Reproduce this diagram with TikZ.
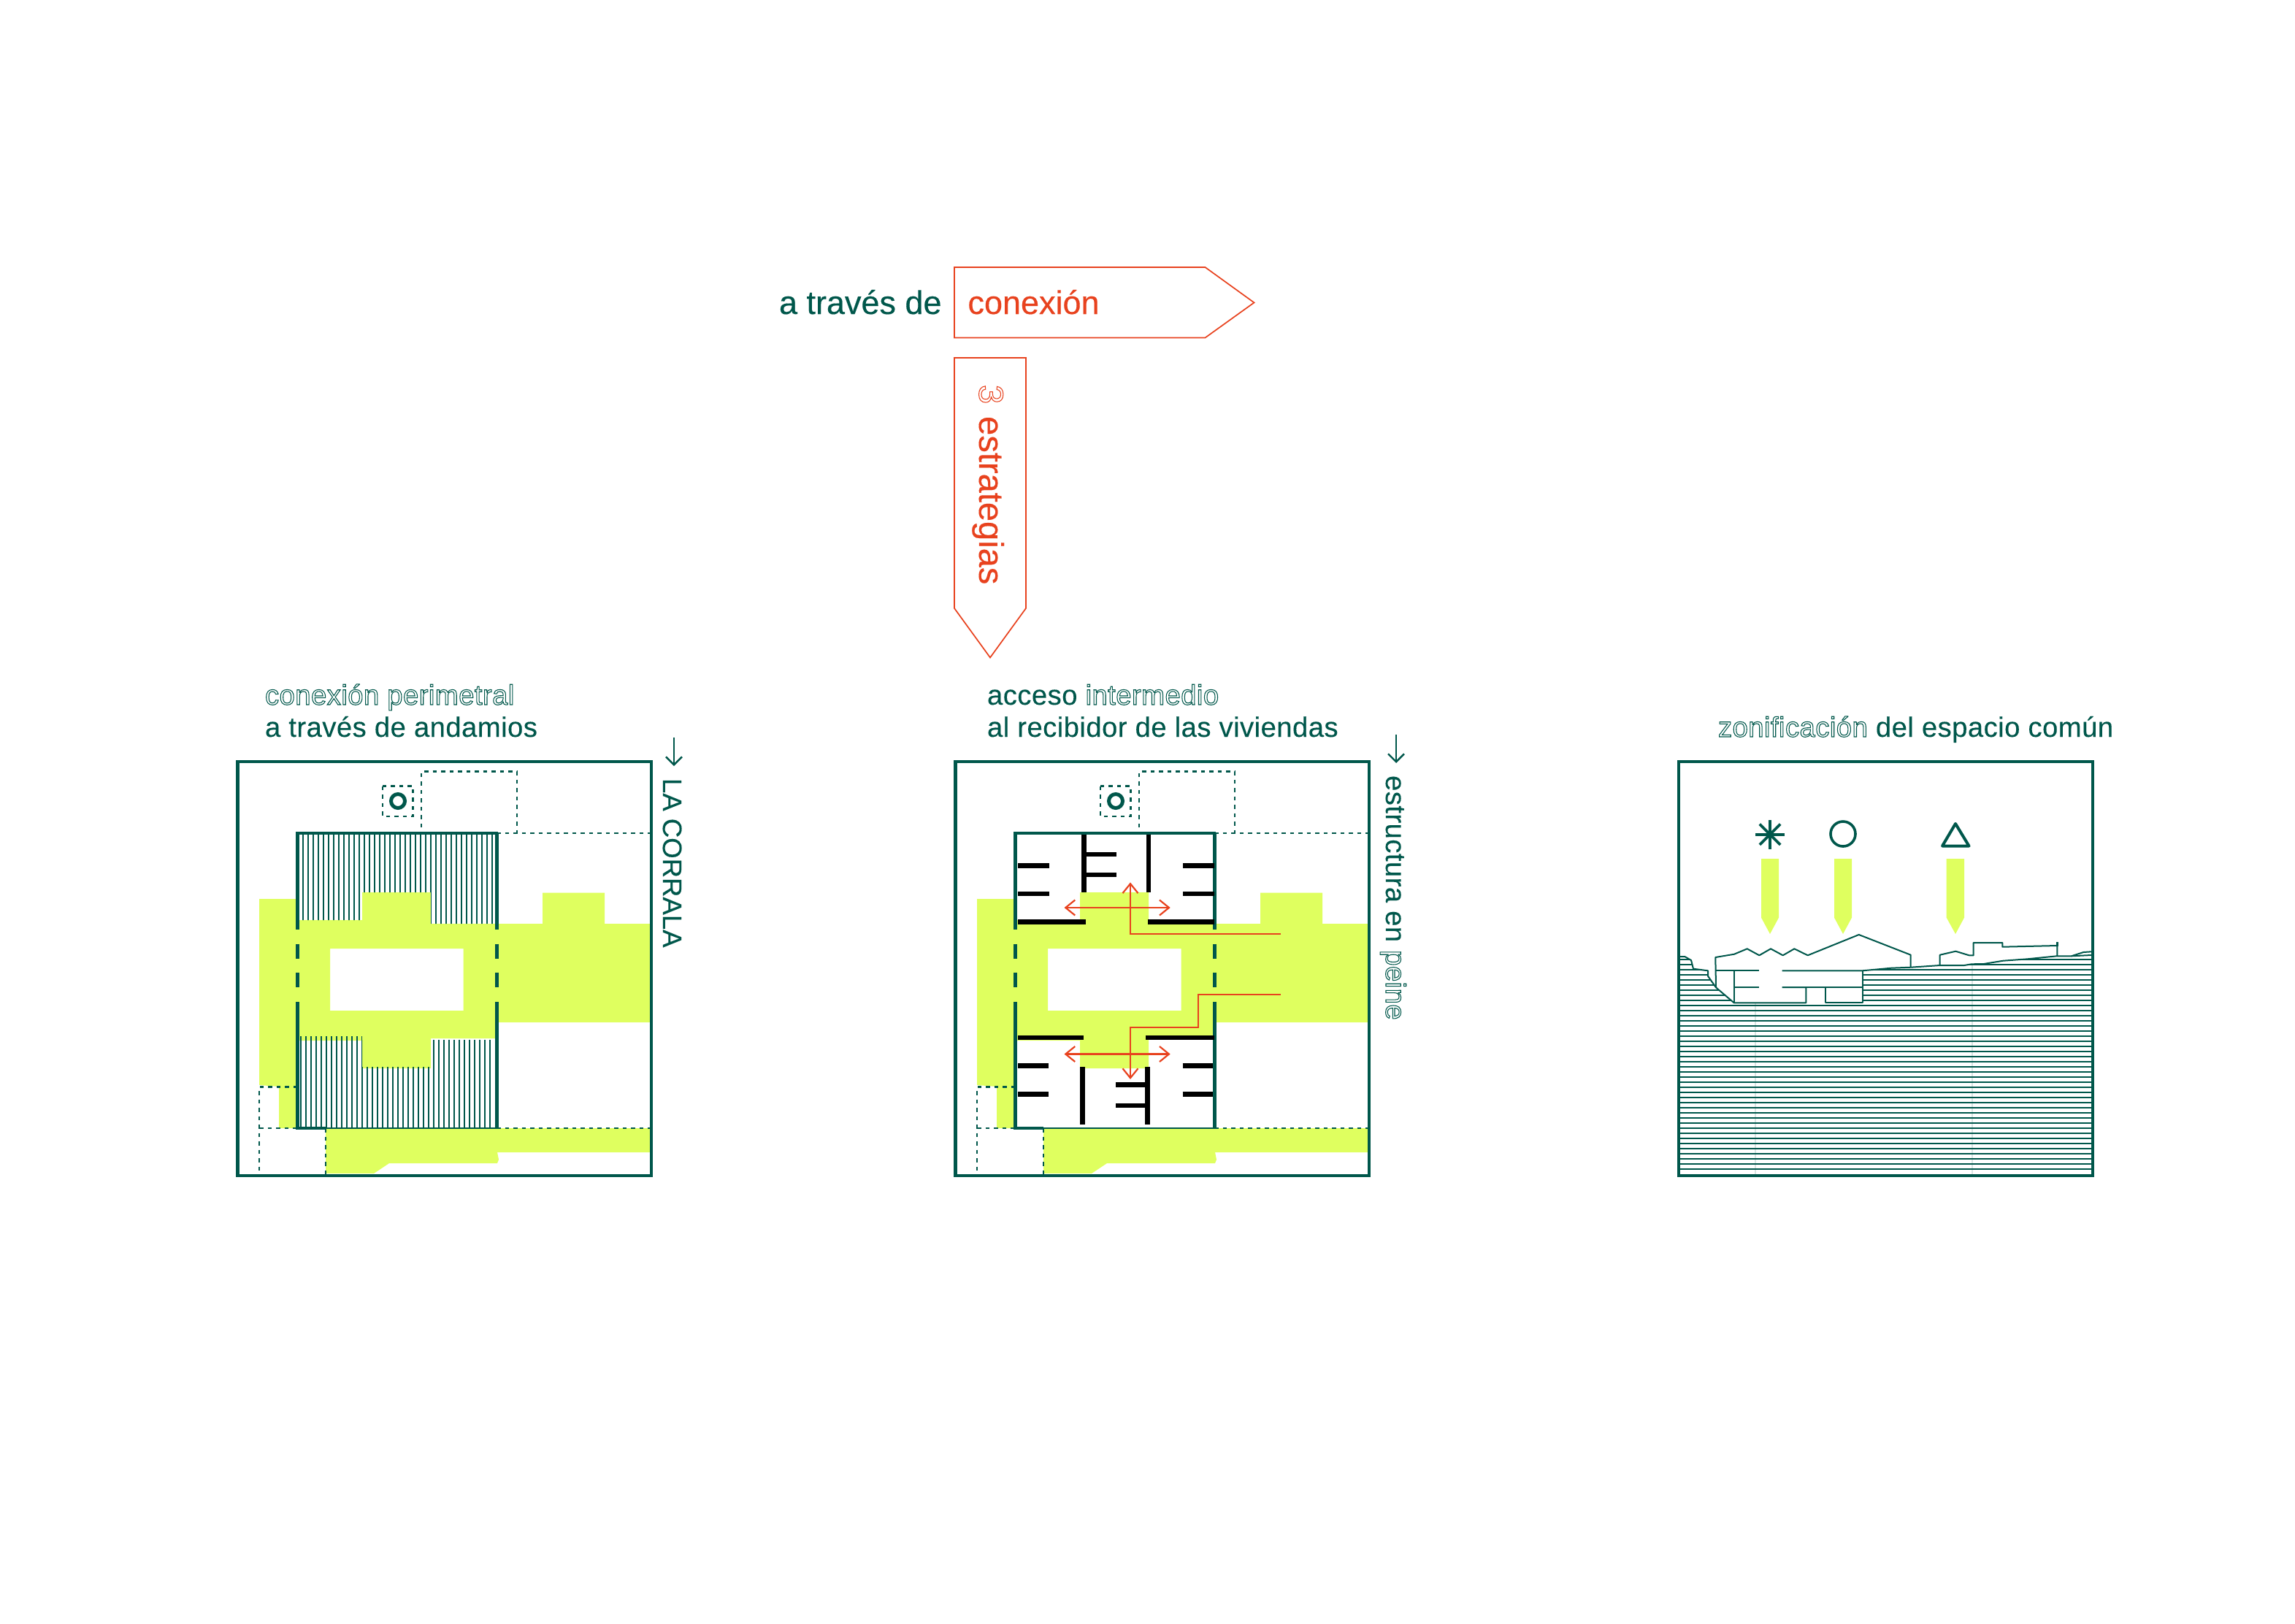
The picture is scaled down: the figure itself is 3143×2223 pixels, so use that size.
\documentclass[tikz,border=0pt]{standalone}
\usepackage{fontspec}
\setmainfont{Liberation Sans}
\newfontfamily\labfont[LetterSpace=1.1,FakeBold=0.15]{Liberation Sans}
\newfontfamily\plainlab[LetterSpace=1.1]{Liberation Sans}
\newfontfamily\bigfont[FakeBold=0.3]{Liberation Sans}
\usetikzlibrary{arrows.meta}
\definecolor{dgreen}{HTML}{00574B}
\definecolor{lime}{HTML}{DFFF5F}
\definecolor{redo}{HTML}{E8421E}
\newcommand{\outl}[1]{{\plainlab\special{pdf:code q 1 Tr 0.3 w}#1\special{pdf:code Q}}}
\newcommand{\outlb}[1]{{\rmfamily\special{pdf:code q 1 Tr 0.3 w}#1\special{pdf:code Q}}}
\tikzset{
  txt/.style={inner sep=0pt,outer sep=0pt,anchor=base west,text=dgreen,font=\labfont\fontsize{10.9pt}{12pt}\selectfont},
  bigtxt/.style={inner sep=0pt,outer sep=0pt,anchor=base west,font=\bigfont\fontsize{12.8pt}{14pt}\selectfont},
  framebox/.style={draw=dgreen,line width=0.42mm,line join=miter},
  wall/.style={draw=dgreen,line width=0.5mm},
  wallthin/.style={draw=dgreen,line width=0.42mm},
  dash1/.style={draw=dgreen,line width=0.24mm,dash pattern=on 0.55mm off 0.6mm},
  hatchv/.style={draw=dgreen,line width=0.18mm},
  hatchh/.style={draw=dgreen,line width=0.165mm},
  partition/.style={draw=black,line width=0.68mm},
  redline/.style={draw=redo,line width=0.22mm},
  redarrow/.style={redline,-{Straight Barb[length=1.3mm,width=2.1mm,line width=0.22mm]}},
  redarrows/.style={redline,{Straight Barb[length=1.3mm,width=2.1mm,line width=0.22mm]}-{Straight Barb[length=1.3mm,width=2.1mm,line width=0.22mm]}},
  sidearrow/.style={draw=dgreen,line width=0.24mm,-{Straight Barb[length=1.1mm,width=2.2mm,line width=0.24mm]}},
  tag/.style={draw=redo,line width=0.17mm,fill=white},
  sect/.style={draw=dgreen,line width=0.2mm,line join=round},
  pointer/.style={fill=lime,draw=none},
  limefill/.style={fill=lime,draw=none,even odd rule},
}
% the site plan that the first two panels share
\newcommand{\planbase}{
  \path[limefill] (355,1231) -- (407,1231) -- (407,1260) -- (496,1260) -- (496,1222) -- (590,1222) -- (590,1265)
    -- (743,1265) -- (743,1222.7) -- (828,1222.7) -- (828,1265) -- (890,1265) -- (890,1400) -- (680,1400)
    -- (680,1422) -- (590,1422) -- (590,1463) -- (496,1463) -- (496,1425) -- (407,1425) -- (407,1545)
    -- (382,1545) -- (382,1488) -- (355,1486) -- cycle
    (452,1299) rectangle (634.5,1384);
  \path[limefill] (446,1545) -- (890,1545) -- (890,1578) -- (681,1578) -- (683,1588) -- (681,1593) -- (533,1593)
    -- (512,1607) -- (446,1607) -- cycle;
  \draw[framebox] (325.5,1043) rectangle (892,1610);
  \draw[dash1] (524,1076.5) rectangle (565.5,1118);
  \draw[draw=dgreen,line width=0.5mm] (545,1097) circle (9.5);
  \draw[dash1] (577,1133) -- (577,1056.5) -- (708,1056.5) -- (708,1141);
  \draw[dash1] (680,1141) -- (890,1141);
  \draw[dash1] (407,1488.5) -- (355,1488.5) -- (355,1608);
  \draw[dash1] (355,1545) -- (407,1545);
  \draw[dash1] (446,1545) -- (446,1608);
  \draw[dash1] (680,1545) -- (890,1545);
  \draw[wallthin] (405,1141) -- (682,1141);
  \draw[wallthin] (405,1545) -- (446,1545);
  \draw[draw=dgreen,line width=0.2mm] (446,1544.5) -- (682,1544.5);
  \foreach \wx in {407,680} {
    \draw[wall] (\wx,1141) -- (\wx,1273);
    \draw[wall] (\wx,1292.5) -- (\wx,1312.5);
    \draw[wall] (\wx,1332) -- (\wx,1352);
    \draw[wall] (\wx,1372) -- (\wx,1545);
  }
}
\begin{document}
\begin{tikzpicture}[x=0.1mm,y=-0.1mm]
\useasboundingbox (0,0) rectangle (3143,2223);

% heading tags
\node[bigtxt,text=dgreen] (through) at (1067,430) {a través de};
\draw[tag] (1307,366) -- (1650.5,366) -- (1717.5,414.4) -- (1650.5,462.5) -- (1307,462.5) -- cycle;
\node[bigtxt,text=redo] (conn) at (1325.5,430) {conexión};
\draw[tag] (1307,490) -- (1405,490) -- (1405,833) -- (1356,900.5) -- (1307,833) -- cycle;
\node[bigtxt,text=redo,rotate=-90,font=\bigfont\fontsize{13.4pt}{14pt}\selectfont] (strat) at (1341,527) {\outlb{3}\kern4.8pt estrategias};

% panel 1
\planbase
\begin{scope}
  \clip (409,1143) -- (678,1143) -- (678,1265) -- (590,1265) -- (590,1222) -- (496,1222) -- (496,1260) -- (409,1260) -- cycle;
  \foreach \i in {0,...,37} \draw[hatchv] ({415.3+7*\i},1141) -- ({415.3+7*\i},1270);
\end{scope}
\begin{scope}
  \clip (409,1419) -- (496,1419) -- (496,1461) -- (590,1461) -- (590,1424) -- (678,1424) -- (678,1545) -- (409,1545) -- cycle;
  \foreach \i in {0,...,37} \draw[hatchv] ({411.7+7*\i},1415) -- ({411.7+7*\i},1545);
\end{scope}
\node[txt] (t1a) at (363,965) {\outl{conexión perimetral}};
\node[txt] (t1b) at (363,1009) {a través de andamios};
\coordinate (a1s) at (923,1010);
\coordinate (a1e) at (923,1049);
\draw[sidearrow] (a1s) -- (a1e);
\node[txt,rotate=-90,font=\bigfont\fontsize{10.4pt}{12pt}\selectfont] (t1c) at (908,1066) {LA CORRALA};

% panel 2
\begin{scope}[xshift=98.3mm]
  \planbase
\end{scope}
\foreach \a/\b/\c/\d in {1394/1185.5/1436.5/1185.5,1394/1224/1436.5/1224,1394/1262.6/1487/1262.6,
  1572/1262.6/1662.5/1262.6,1620/1185.5/1662.5/1185.5,1620/1224/1662.5/1224,
  1484.4/1143/1484.4/1222,1484.4/1170/1528.6/1170,1484.4/1198/1528.6/1198,1573/1143/1573/1222,
  1394/1421/1484.4/1421,1569/1421/1662.5/1421,1394/1459.6/1435.6/1459.6,1619.5/1459.6/1661/1459.6,
  1394/1498.6/1435.6/1498.6,1619.5/1498.6/1661/1498.6,1482.3/1461/1482.3/1540,1571.6/1461/1571.6/1540,
  1528/1485.8/1571.6/1485.8,1528/1514/1571.6/1514}
  \draw[partition] (\a,\b) -- (\c,\d);
\coordinate (r1s) at (1754,1278.7);
\coordinate (r1b) at (1548,1278.7);
\coordinate (r1e) at (1548,1208.4);
\coordinate (c1l) at (1457.5,1243);
\coordinate (c1r) at (1602.7,1243);
\coordinate (r2s) at (1754,1362);
\coordinate (r2a) at (1641,1362);
\coordinate (r2b) at (1641,1407);
\coordinate (r2c) at (1548,1407);
\coordinate (r2e) at (1548,1478);
\coordinate (c2l) at (1457.5,1443.5);
\coordinate (c2r) at (1602.7,1443.5);
\draw[redarrow] (r1s) -- (r1b) -- (r1e);
\draw[redarrows] (c1l) -- (c1r);
\draw[redarrow] (r2s) -- (r2a) -- (r2b) -- (r2c) -- (r2e);
\draw[redarrows] (c2l) -- (c2r);
\node[txt] (t2a) at (1352,965) {acceso \outl{intermedio}};
\node[txt] (t2b) at (1352,1009) {al recibidor de las viviendas};
\coordinate (a2s) at (1912,1006);
\coordinate (a2e) at (1912,1045);
\draw[sidearrow] (a2s) -- (a2e);
\node[txt,rotate=-90] (t2c) at (1898,1062) {estructura en \outl{peine}};

% panel 3
\begin{scope}
  \clip (2301,1310) -- (2307.3,1310) -- (2316,1315) -- (2319,1326.7) -- (2339,1329.3) -- (2339,1336.7) -- (2350,1352.3)
    -- (2374.7,1373.3) -- (2550.7,1373.3) -- (2550.7,1329) -- (2590,1325.7) -- (2616.7,1324.7) -- (2656.7,1322)
    -- (2690,1322) -- (2700,1320.3) -- (2716.7,1320) -- (2743.3,1315.7) -- (2776.7,1313.3) -- (2816.7,1309.3)
    -- (2836.7,1309.3) -- (2853.3,1304) -- (2864,1303.3) -- (2864,1610) -- (2301,1610) -- cycle;
  \foreach \i in {-12,...,29} \draw[hatchh] (2300,{1398.3+7*\i}) -- (2866,{1398.3+7*\i});
  \draw[draw=dgreen,draw opacity=0.15,line width=0.2mm] (2404,1300) -- (2404,1610);
  \draw[draw=dgreen,draw opacity=0.15,line width=0.2mm] (2700.7,1300) -- (2700.7,1610);
\end{scope}
\draw[framebox] (2299,1043) rectangle (2866,1610);
% section outline
\draw[sect] (2301,1310) -- (2307.3,1310) -- (2316,1315) -- (2319,1326.7) -- (2339,1329.3) -- (2339,1336.7) -- (2350,1352.3)
  -- (2374.7,1373.3) -- (2473.3,1373.3) -- (2473.3,1352) -- (2440.7,1352);
\draw[sect] (2500,1352) -- (2500,1373.3) -- (2550.7,1373.3) -- (2550.7,1329);
\draw[sect] (2473.3,1352) -- (2550.7,1352);
\draw[sect] (2440.7,1329.3) -- (2550.7,1329.3) -- (2590,1325.7) -- (2616.7,1324.7) -- (2656.7,1322) -- (2690,1322) -- (2700,1320.3)
  -- (2716.7,1320) -- (2743.3,1315.7) -- (2776.7,1313.3) -- (2816.7,1309.3) -- (2836.7,1309.3) -- (2853.3,1304) -- (2864,1303.3);
\draw[sect] (2836.7,1309.3) -- (2864,1308);
\draw[sect] (2350,1329.3) -- (2409,1329.3);
\draw[sect] (2374.7,1352) -- (2409,1352);
\draw[sect] (2374.7,1329.3) -- (2374.7,1373.3);
\draw[sect] (2350,1352.3) -- (2349.3,1311) -- (2375,1306.7) -- (2392.7,1299.3) -- (2409.3,1308.3) -- (2425,1299.3) -- (2441.7,1308.3)
  -- (2457.3,1299.3) -- (2475.7,1308.3) -- (2545.7,1280) -- (2616.7,1307.7) -- (2616.7,1324.7);
\draw[sect] (2656.7,1322) -- (2656.7,1307.7) -- (2678.3,1302.7) -- (2696.7,1308.3) -- (2702.7,1308.3) -- (2702.7,1291) -- (2742.3,1291)
  -- (2742.3,1296.7) -- (2817.3,1295) -- (2817.3,1309.3);
\draw[draw=dgreen,line width=0.3mm] (2817.3,1290) -- (2817.3,1296);
% symbols
\foreach \ang in {0,45,90,135}
  \draw[draw=dgreen,line width=0.38mm] (2424,1142.7) ++(\ang:20) -- ++(\ang+180:40);
\draw[draw=dgreen,line width=0.36mm] (2524,1142) circle (17);
\draw[draw=dgreen,line width=0.4mm,line join=round] (2678,1128) -- (2696.5,1158.5) -- (2660,1158.5) -- cycle;
\path[pointer] (2412,1176) -- (2436,1176) -- (2436,1256.7) -- (2424,1279) -- (2412,1256.7) -- cycle;
\path[pointer] (2512,1176) -- (2536,1176) -- (2536,1256.7) -- (2524,1279) -- (2512,1256.7) -- cycle;
\path[pointer] (2665.7,1176) -- (2690,1176) -- (2690,1256.7) -- (2678,1279) -- (2665.7,1256.7) -- cycle;
\node[txt] (t3a) at (2353,1009) {\outl{zonificación} del espacio común};
\end{tikzpicture}
\end{document}
